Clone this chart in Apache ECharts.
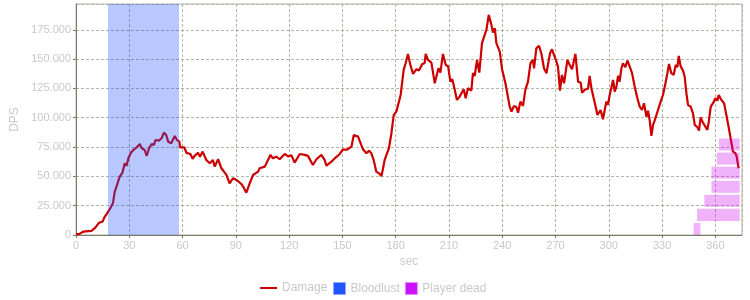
<!DOCTYPE html>
<html>
<head>
<meta charset="utf-8">
<script src="https://cdn.jsdelivr.net/npm/echarts@6/dist/echarts.min.js"></script>
<style>html,body{margin:0;padding:0;background:#fff;}#c{width:750px;height:300px;}</style>
</head>
<body>
<div id="c"></div>
<script>
// ---- data ----
const damageTime = [0,1,2,3,4,5,7,8.7,9.6,11,12,13,14,15,16,17.5,19,20,20.8,21.8,23.1,24.6,26.2,27.4,28.4,29.5,30.9,32.7,34.2,35.9,37,38.7,39.8,41.1,42.6,43.9,44.8,46.7,48.2,49.5,50.8,51.9,53.6,54.7,55.6,56.9,58.2,58.6,59.7,61,
62.2,64.4,65.7,66.8,68.7,69.8,71.3,73.4,75.3,77.1,78.1,80,81.9,84.7,86.5,88.4,90.3,93.1,94,95.9,97.8,99.7,102.5,103.4,106.3,108.1,109.5,110.9,112.8,114.7,117.5,119.4,121.3,123.1,126,128.8,130.6,133.4,135.4,138.2,140,141,143.8,145.7,148.5,
150.3,152.5,155.1,156.4,158.8,159.7,161.6,163.5,165,166.3,167.6,169.1,170.6,172,172.9,173.8,174.8,176.2,177.6,178.9,180.4,181.3,182.8,184.5,185.6,186.9,188.3,189.8,191.7,193.1,195,196.3,196.9,198.2,200.1,202,203,204.1,205.2,206.6,208.2,209.5,210.8,211.9,213.2,214.5,216,218.3,219.4,220.7,222.6,223.5,224.5,225.8,227.1,
228.6,230.1,231.1,232.4,233.9,234.8,235.8,236.7,238.6,239.9,241,241.8,242.9,244.2,245.2,246.6,248,248.9,250.2,251.7,253,254.5,255.9,257.3,257.9,259.2,260.7,262,263.5,264.9,265.8,266.9,268,269.1,270.5,271.4,272.5,273.6,274.8,276.7,278,279.3,280.4,281.2,282.7,284.2,284.9,286.8,288.3,289.2,290.2,291.1,292.5,293.6,294.3,295.4,296.7,
298.6,299.5,300.5,301.5,302.4,303.3,304.3,305.2,306.1,307.1,308,309.3,310.5,311.8,313.1,314.6,316.1,317.4,318.7,319.8,321.2,322.1,323,324,324.9,325.8,326.8,327.7,329.2,330.5,331.9,333,333.9,335.2,336.5,337.7,338.6,339.4,340.5,341.8,342.7,343.7,344.6,346.1,347.4,348.4,349.9,350.8,351.7,353,354,355.5,356.3,357.4,358.7,360,361.1,361.9,363.4,364.9,366.2,367.5,368.6,369.9,371.3,372,373.1];
const damageValue = [800,600,1000,1400,2800,3300,3300,3400,4900,6500,6200,10500,12200,11500,15000,18500,22000,22800,27000,36900,42700,49700,53200,61200,58900,65400,70200,73100,74800,77600,74000,72500,67400,74000,77600,76800,81000,80500,82500,87300,85300,79600,78200,79600,84500,81000,79600,74800,74000,74800,
70000,69100,65000,67500,70200,66800,71100,64000,61200,64000,58300,64600,56900,51200,44100,48400,47000,43500,41500,36100,44100,51200,54000,56900,58300,64000,68300,65400,66800,64600,69100,67000,68000,61700,69100,68300,67500,59700,64600,68300,64000,59100,62500,65400,69100,
73100,72700,75300,85300,83900,83900,73100,69700,71900,69700,64000,54000,52600,50300,56900,64000,62500,74000,86800,102400,105200,103800,119400,140800,146500,154400,145000,137400,141400,140200,145900,146500,154400,149300,147000,129400,130000,142200,138500,154400,145000,144000,130800,132800,124300,115200,118000,124300,116600,125200,123100,138000,135700,149300,138500,
163600,170600,174900,187700,179200,172600,176400,163600,156400,141400,142200,129400,129400,109500,105200,110100,108900,104300,113700,110100,123700,130800,146500,149300,142200,159300,161300,155000,142200,138000,137400,155000,158400,157000,147900,143600,123100,136500,129400,149300,145000,141400,141000,154400,130800,129900,121400,124300,124600,135700,125200,124300,110100,102400,100900,106600,98700,
113700,111000,119400,120000,132200,122300,126500,135700,130800,142200,146500,143100,148700,143600,138000,126500,116600,109500,106600,112400,100900,106000,98100,84500,93900,97500,98100,106600,113700,119400,129400,138000,145900,138000,136500,145000,143100,152700,143600,140200,135100,120900,110900,109500,103800,93900,91900,89000,100400,95800,97000,89600,96700,109500,112400,116600,114600,119400,115200,112400,102400,91900,90200,71100,69700,66800,56900];

const bloodlustStart = [18];
const bloodlustEnd = [58];

const deathStart = [347.8, 349.7, 353.8, 357.8, 357.8, 360.8, 362];
const deathEnd   = [351.6, 373.7, 373.7, 373.7, 373.7, 373.7, 373.7];
const deathLane  = [0, 1, 2, 3, 4, 5, 6];

const xTicks = [0,30,60,90,120,150,180,210,240,270,300,330,360];
const yTicks = [0,25000,50000,75000,100000,125000,150000,175000];

// ---- chart ----
const LANE = 12000;
const lineData = damageTime.map((t, i) => [t, damageValue[i]]);
const blData = bloodlustStart.map((s, i) => [s, bloodlustEnd[i]]);
const deadData = deathStart.map((s, i) => [s, deathEnd[i], deathLane[i]]);

const txt = '#c8c8c8';
const axisCol = '#7a7a68';
const gridCol = '#b4b4a6';

const chart = echarts.init(document.getElementById('c'), null, {renderer: 'canvas'});
chart.setOption({
  animation: false,
  textStyle: {fontFamily: 'Liberation Sans, Arial, sans-serif'},
  grid: {left: 76, right: 8, top: 4, bottom: 65, containLabel: false, outerBoundsMode: 'none',
         show: true, borderColor: gridCol, borderWidth: 1, backgroundColor: 'transparent'},
  legend: [
    {data: [{name: 'Damage', icon: 'path://M0,0h17v2h-17z', itemStyle: {color: '#cc0000'}}],
     left: 260, top: 282, padding: 0, itemWidth: 17, itemHeight: 12, itemGap: 5,
     textStyle: {color: txt, fontSize: 12}},
    {data: [
      {name: 'Bloodlust', icon: 'rect', itemStyle: {color: '#2255ff', borderColor: '#8fa6ff', borderWidth: 1}},
      {name: 'Player dead', icon: 'rect', itemStyle: {color: '#cc11ff', borderColor: '#e08cff', borderWidth: 1}}
     ], left: 333, top: 282, padding: 0, itemWidth: 12, itemHeight: 12, itemGap: 5,
     textStyle: {color: txt, fontSize: 12}}
  ],
  xAxis: {
    type: 'value', min: 0, max: 375, interval: 30,
    name: 'sec', nameLocation: 'middle', nameGap: 20,
    nameTextStyle: {color: txt, fontSize: 12},
    axisLine: {show: true, lineStyle: {color: axisCol, width: 1}},
    axisTick: {show: true, length: 3, lineStyle: {color: axisCol}},
    axisLabel: {color: txt, fontSize: 11, margin: 5, showMaxLabel: false,
      formatter: v => xTicks.indexOf(v) >= 0 ? String(v) : ''},
    splitLine: {show: true, lineStyle: {color: gridCol, type: [3, 2], width: 1}}
  },
  yAxis: {
    type: 'value', min: 0, max: 197000, interval: 25000,
    name: 'DPS', nameLocation: 'middle', nameGap: 51,
    nameTextStyle: {color: txt, fontSize: 12},
    axisLine: {show: true, lineStyle: {color: axisCol, width: 1}},
    axisTick: {show: true, length: 3, lineStyle: {color: axisCol}},
    axisLabel: {color: txt, fontSize: 11, margin: 5, showMaxLabel: false,
      formatter: v => yTicks.indexOf(v) >= 0 ? String(v).replace(/\B(?=(\d{3})+(?!\d))/g, '.') : ''},
    splitLine: {show: true, lineStyle: {color: gridCol, type: [3, 2], width: 1}}
  },
  series: [
    {
      name: 'Damage', type: 'line', data: lineData, symbol: 'none', z: 2,
      lineStyle: {color: '#cc0000', width: 2.2}, itemStyle: {color: '#cc0000'}
    },
    {
      name: 'Bloodlust', type: 'custom', z: 3, data: blData,
      encode: {x: [0, 1]}, itemStyle: {color: '#2255ff'},
      renderItem: function (params, api) {
        const cs = params.coordSys;
        const x0 = api.coord([api.value(0), 0])[0];
        const x1 = api.coord([api.value(1), 0])[0];
        return {type: 'rect', shape: {x: x0, y: cs.y, width: x1 - x0, height: cs.height},
                style: {fill: 'rgba(34,85,255,0.32)'}};
      }
    },
    {
      name: 'Player dead', type: 'custom', z: 3, data: deadData,
      encode: {x: [0, 1], y: 2}, itemStyle: {color: '#cc11ff'},
      renderItem: function (params, api) {
        const lane = api.value(2);
        const p0 = api.coord([api.value(0), lane * LANE]);
        const p1 = api.coord([api.value(1), (lane + 1) * LANE]);
        return {type: 'rect', shape: {x: p0[0], y: p1[1] + 2, width: p1[0] - p0[0], height: p0[1] - p1[1] - 2},
                style: {fill: 'rgba(204,0,238,0.3)'}};
      }
    }
  ]
});
</script>
</body>
</html>
